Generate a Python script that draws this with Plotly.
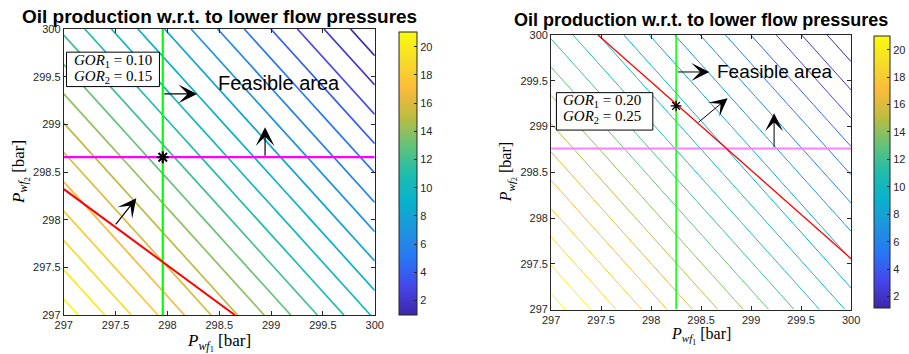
import plotly.graph_objects as go

# ---------------------------------------------------------------- data
# pressure grid nodes [bar]
P_NODES = [297, 298, 299, 300]

# oil rate at the grid nodes, rows = P_wf2, columns = P_wf1
OIL_A = [
    [21.54, 17.64, 13.74, 9.84],
    [18.29, 14.39, 10.49, 6.59],
    [15.04, 11.14, 7.24, 3.34],
    [11.79, 7.89, 3.99, 0.09],
]
OIL_B = [
    [21.56, 17.63, 13.69, 9.76],
    [18.33, 14.39, 10.46, 6.53],
    [15.10, 11.16, 7.23, 3.29],
    [11.86, 7.93, 3.99, 0.06],
]
LEVEL_START, LEVEL_END, LEVEL_STEP = 1, 21, 1
CLIM_A = [1.0, 21.06]
CLIM_B = [1.16, 21.0]

# constraints (case A: GOR 0.10 / 0.15, case B: GOR 0.20 / 0.25)
PWF1_LIMIT_A, PWF2_LIMIT_A = 297.955, 298.655
PWF1_LIMIT_B, PWF2_LIMIT_B = 298.25, 298.76
GAS_LIMIT_A_X = [297.0, 298.65]
GAS_LIMIT_A_Y = [298.32, 297.0]
GAS_LIMIT_B_X = [297.469, 300.0]
GAS_LIMIT_B_Y = [300.0, 297.556]
OPT_A = (297.955, 298.655)
OPT_B = (298.25, 299.225)

TICKS = [297, 297.5, 298, 298.5, 299, 299.5, 300]
TICK_TEXT = ["297", "297.5", "298", "298.5", "299", "299.5", "300"]
CBAR_TICKS = [2, 4, 6, 8, 10, 12, 14, 16, 18, 20]

TITLE = "Oil production w.r.t. to lower flow pressures"

# ---------------------------------------------------------------- style
W, H = 909, 354
MR = 30                     # right margin kept free for the colour bar labels
AREA_W = W - MR
INK = "#262626"
SANS = "Liberation Sans, Arial, Helvetica, sans-serif"
SERIF = "Liberation Serif, Times New Roman, serif"

PARULA = [
    [0.0, "rgb(62,38,168)"],
    [0.1, "rgb(70,70,235)"],
    [0.2, "rgb(40,118,245)"],
    [0.3, "rgb(30,148,222)"],
    [0.4, "rgb(8,178,205)"],
    [0.5, "rgb(32,188,172)"],
    [0.6, "rgb(100,195,120)"],
    [0.7, "rgb(190,188,65)"],
    [0.8, "rgb(250,187,60)"],
    [0.9, "rgb(246,220,40)"],
    [1.0, "rgb(249,251,14)"],
]


def fx(px):
    return px / AREA_W


def fy(py):
    return 1 - py / H


fig = go.Figure()


def add_panel(xa, ya, oil, clim, lw, cbar_px, p1, p2, gx, gy, opt,
              green_w, mag_color, mag_w, red_w, star_size, star_w):
    xr, yr = xa.replace("axis", ""), ya.replace("axis", "")
    fig.add_trace(go.Contour(
        x=P_NODES, y=P_NODES, z=oil,
        contours=dict(start=LEVEL_START, end=LEVEL_END, size=LEVEL_STEP,
                      coloring="lines"),
        colorscale=PARULA, showscale=False, line=dict(width=lw),
        hoverinfo="skip", xaxis=xr, yaxis=yr,
    ))
    # colour bar carrier
    cx, cw, ctop, cbot = cbar_px
    fig.add_trace(go.Scatter(
        x=[P_NODES[0]], y=[P_NODES[0]], mode="markers",
        marker=dict(size=1, opacity=0, color=[clim[0]], cmin=clim[0],
                    cmax=clim[1], colorscale=PARULA, showscale=True,
                    colorbar=dict(
                        x=fx(cx), xanchor="left", thickness=cw,
                        y=fy(ctop), yanchor="top", len=cbot - ctop,
                        lenmode="pixels", xpad=0, ypad=0,
                        outlinecolor=INK, outlinewidth=1,
                        tickvals=CBAR_TICKS, ticks="inside", ticklen=3,
                        tickcolor=INK,
                        tickfont=dict(family=SANS, size=11, color=INK))),
        hoverinfo="skip", xaxis=xr, yaxis=yr,
    ))
    fig.add_trace(go.Scatter(x=[p1, p1], y=[P_NODES[0], P_NODES[-1]],
                             mode="lines", line=dict(color="#00ff00", width=green_w),
                             hoverinfo="skip", xaxis=xr, yaxis=yr))
    fig.add_trace(go.Scatter(x=[P_NODES[0], P_NODES[-1]], y=[p2, p2],
                             mode="lines", line=dict(color=mag_color, width=mag_w),
                             hoverinfo="skip", xaxis=xr, yaxis=yr))
    fig.add_trace(go.Scatter(x=gx, y=gy, mode="lines",
                             line=dict(color="#ff0000", width=red_w),
                             hoverinfo="skip", xaxis=xr, yaxis=yr))
    fig.add_trace(go.Scatter(x=[opt[0]], y=[opt[1]], mode="markers",
                             marker=dict(symbol="asterisk-open", size=star_size,
                                         color="black",
                                         line=dict(color="black", width=star_w)),
                             hoverinfo="skip", xaxis=xr, yaxis=yr))


add_panel("xaxis", "yaxis", OIL_A, CLIM_A, 1.7, (400, 17.5, 31.7, 315),
          PWF1_LIMIT_A, PWF2_LIMIT_A, GAS_LIMIT_A_X, GAS_LIMIT_A_Y, OPT_A,
          2.2, "#ff00ff", 2.2, 2.0, 10, 2)
add_panel("xaxis2", "yaxis2", OIL_B, CLIM_B, 1.0, (876.7, 16.3, 36, 308.3),
          PWF1_LIMIT_B, PWF2_LIMIT_B, GAS_LIMIT_B_X, GAS_LIMIT_B_Y, OPT_B,
          1.5, "#ff80ff", 2.0, 1.3, 9, 1.3)

axis_common = dict(
    range=[297, 300], tickvals=TICKS, ticktext=TICK_TEXT, ticks="inside",
    ticklen=4, tickwidth=1, tickcolor=INK, showline=True, linecolor=INK,
    linewidth=1, mirror="ticks", showgrid=False, zeroline=False,
    automargin=False, tickfont=dict(family=SANS, size=11, color=INK),
)

fig.update_layout(
    template="none",
    width=W, height=H, margin=dict(l=0, r=MR, t=0, b=0, pad=0),
    paper_bgcolor="white", plot_bgcolor="white", showlegend=False,
    xaxis=dict(domain=[fx(64), fx(376)], anchor="y", **axis_common),
    yaxis=dict(domain=[fy(315), fy(29)], anchor="x", **axis_common),
    xaxis2=dict(domain=[fx(553), fx(854)], anchor="y2", **axis_common),
    yaxis2=dict(domain=[fy(309.5), fy(35)], anchor="x2", **axis_common),
)

ann = []
shapes = []


def arrow(xr, yr, tail, head, w, size):
    ann.append(dict(xref=xr, yref=yr, axref=xr, ayref=yr, x=head[0], y=head[1],
                    ax=tail[0], ay=tail[1], text="", showarrow=True,
                    arrowhead=3, arrowsize=size, arrowwidth=w, arrowcolor="black",
                    standoff=0, startstandoff=0))


def label(x, y, text, size, xref="paper", yref="paper", xanchor="center",
          yanchor="middle", family=SANS, angle=0, color="black"):
    ann.append(dict(xref=xref, yref=yref, x=x, y=y, text=text, showarrow=False,
                    xanchor=xanchor, yanchor=yanchor, textangle=angle,
                    font=dict(family=family, size=size, color=color)))


# titles
label(fx(220), fy(16), "<b>" + TITLE + "</b>", 19)
label(fx(703.5), fy(20), "<b>" + TITLE + "</b>", 18)

# axis labels
XLAB = "<i>P</i><sub><i>wf</i><sub>1</sub></sub> [bar]"
YLAB = "<i>P</i><sub><i>wf</i><sub>2</sub></sub> [bar]"
label(fx(220), fy(342), XLAB, 17, family=SERIF)
label(fx(20), fy(172), YLAB, 17, family=SERIF, angle=-90)
label(fx(703), fy(336), XLAB, 16, family=SERIF)
label(fx(510), fy(172), YLAB, 16, family=SERIF, angle=-90)

# case A annotations
arrow("x", "y", (297.49, 297.934), (297.70, 298.225), 1.2, 2.6)
arrow("x", "y", (PWF1_LIMIT_A, 299.319), (298.286, 299.319), 1.2, 2.6)
arrow("x", "y", (298.942, PWF2_LIMIT_A), (298.942, 298.97), 1.2, 2.6)
label(298.468, 299.431, "Feasible area", 20, xref="x", yref="y", xanchor="left")
shapes.append(dict(type="rect", xref="x", yref="y", x0=297.026, x1=297.923,
                   y0=299.396, y1=299.757, line=dict(color="black", width=1),
                   fillcolor="white", layer="above"))
label(297.084, 299.66, "<i>GOR</i><sub>1</sub> = 0.10", 15, xref="x", yref="y",
      xanchor="left", family=SERIF)
label(297.084, 299.494, "<i>GOR</i><sub>2</sub> = 0.15", 15, xref="x", yref="y",
      xanchor="left", family=SERIF)

# case B annotations
arrow("x2", "y2", (PWF1_LIMIT_B, 299.596), (298.582, 299.596), 1.0, 3.0)
arrow("x2", "y2", (298.459, 299.033), (298.765, 299.31), 1.0, 3.0)
arrow("x2", "y2", (299.23, PWF2_LIMIT_B), (299.23, 299.146), 1.0, 3.0)
label(298.638, 299.596, "Feasible area", 19, xref="x2", yref="y2", xanchor="left")
shapes.append(dict(type="rect", xref="x2", yref="y2", x0=297.053, x1=298.017,
                   y0=298.961, y1=299.370, line=dict(color="black", width=1),
                   fillcolor="white", layer="above"))
label(297.103, 299.28, "<i>GOR</i><sub>1</sub> = 0.20", 15, xref="x2", yref="y2",
      xanchor="left", family=SERIF)
label(297.103, 299.106, "<i>GOR</i><sub>2</sub> = 0.25", 15, xref="x2", yref="y2",
      xanchor="left", family=SERIF)

fig.update_layout(annotations=ann, shapes=shapes)
fig.write_html("out.html")
